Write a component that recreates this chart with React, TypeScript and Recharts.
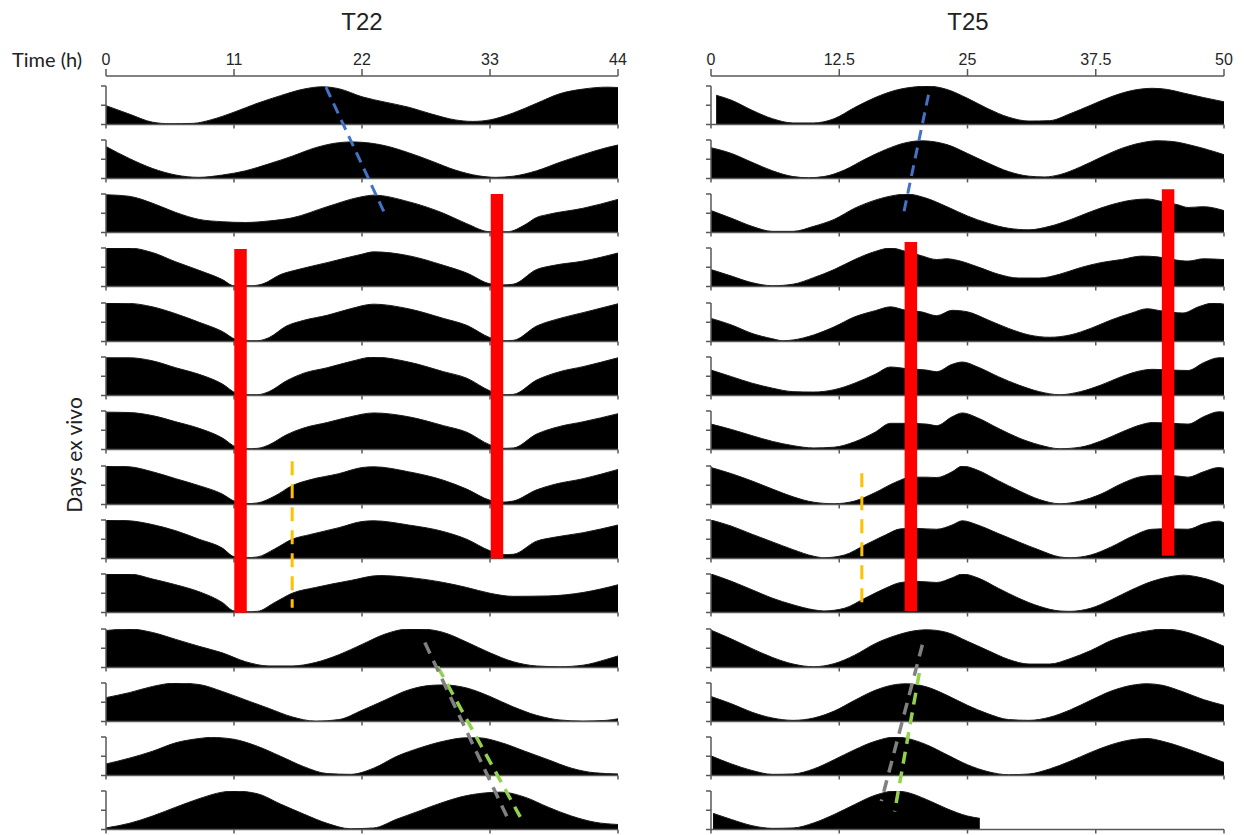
import React from 'react';
import { AreaChart, Area, XAxis, YAxis, ComposedChart, Line } from 'recharts';

// T22 / T25 actograms, one row per day ex vivo (double plotted)
type Pt = [number, number];

const t22Ticks = [0, 11, 22, 33, 44];
const t25Ticks = [0, 12.5, 25, 37.5, 50];

// [time (h), relative level 0..1]
const t22Row1: Pt[] = [[0, 0.49], [2, 0.27], [4, 0.06], [5.5, 0.02], [7.5, 0.03], [9, 0.12], [11, 0.32], [13, 0.55], [15, 0.75], [17, 0.92], [18.6, 0.98], [20, 0.93], [22, 0.72], [24, 0.58], [26, 0.45], [28, 0.27], [30, 0.12], [31.5, 0.08], [33, 0.12], [35, 0.3], [37, 0.55], [39, 0.8], [41, 0.92], [43, 0.97], [44, 0.96]];
const t22Row2: Pt[] = [[0, 0.83], [2, 0.52], [4, 0.26], [6, 0.09], [8, 0.03], [10, 0.09], [12, 0.2], [14, 0.38], [16, 0.58], [18, 0.8], [20, 0.93], [21, 0.95], [22, 0.94], [24, 0.85], [26, 0.67], [28, 0.45], [30, 0.22], [32, 0.07], [33.5, 0.03], [35, 0.06], [37, 0.2], [39, 0.42], [41, 0.62], [43, 0.8], [44, 0.87]];
const t22Row3: Pt[] = [[0, 0.98], [2, 0.94], [4, 0.76], [6, 0.52], [8, 0.34], [10, 0.28], [12, 0.26], [14, 0.3], [16, 0.38], [19, 0.67], [22, 0.93], [23, 0.97], [26, 0.8], [29, 0.5], [31, 0.23], [33, 0.02], [34.5, 0.02], [36, 0.2], [37, 0.39], [38, 0.47], [41, 0.63], [44, 0.86]];
const t22Row4: Pt[] = [[0, 1.0], [2, 1.0], [4, 0.88], [6, 0.64], [8, 0.42], [10, 0.18], [11, 0.02], [12.5, 0.02], [13.5, 0.07], [15, 0.31], [16.5, 0.44], [19, 0.62], [22, 0.84], [23, 0.9], [26, 0.8], [29, 0.55], [31, 0.35], [33, 0.07], [34, 0.04], [35, 0.06], [37, 0.44], [38.5, 0.55], [41, 0.66], [44, 0.87]];
const t22Row5: Pt[] = [[0, 1.0], [2, 0.99], [4, 0.9], [6, 0.72], [8, 0.5], [10, 0.26], [11.2, 0.05], [12, 0.02], [13, 0.02], [14, 0.1], [15.5, 0.4], [17, 0.55], [19, 0.68], [21, 0.85], [23, 0.97], [26, 0.85], [29, 0.6], [31, 0.42], [33, 0.1], [34, 0.02], [35, 0.03], [37, 0.4], [39, 0.6], [41, 0.75], [44, 0.98]];
const t22Row6: Pt[] = [[0, 0.98], [2, 0.98], [4, 0.9], [6, 0.72], [8, 0.55], [10, 0.3], [11.2, 0.06], [12, 0.02], [13, 0.02], [14, 0.1], [15.5, 0.38], [17, 0.58], [19, 0.72], [21, 0.88], [23, 1.0], [26, 0.87], [29, 0.62], [31, 0.45], [33, 0.12], [34, 0.02], [35, 0.03], [37, 0.4], [39, 0.62], [41, 0.75], [44, 0.98]];
const t22Row7: Pt[] = [[0, 0.97], [2, 0.96], [4, 0.88], [6, 0.72], [8, 0.55], [10, 0.3], [11.2, 0.06], [12, 0.02], [13, 0.03], [14, 0.12], [15.5, 0.38], [17, 0.56], [19, 0.7], [21, 0.85], [23, 0.95], [26, 0.85], [29, 0.62], [31, 0.45], [33, 0.12], [34, 0.03], [35, 0.04], [37, 0.4], [39, 0.6], [41, 0.72], [44, 0.93]];
const t22Row8: Pt[] = [[0, 1.0], [2, 0.98], [4, 0.85], [6, 0.67], [8, 0.49], [10, 0.27], [11, 0.09], [12, 0.02], [13, 0.04], [14.5, 0.22], [16, 0.49], [17.5, 0.64], [20, 0.8], [22, 0.96], [23, 0.98], [26, 0.85], [29, 0.63], [31, 0.4], [33, 0.11], [34, 0.06], [35, 0.09], [37, 0.38], [38.5, 0.52], [41, 0.67], [44, 0.91]];
const t22Row9: Pt[] = [[0, 1.0], [2, 0.98], [4, 0.88], [6, 0.72], [8, 0.5], [10, 0.27], [11, 0.05], [12, 0.02], [13, 0.04], [14.5, 0.25], [16, 0.5], [17.5, 0.62], [20, 0.8], [22, 0.96], [23, 0.98], [26, 0.87], [29, 0.7], [31, 0.5], [33, 0.2], [34.2, 0.1], [35, 0.11], [37, 0.45], [38.5, 0.55], [41, 0.67], [44, 0.87]];
const t22Row10: Pt[] = [[0, 1.0], [2, 1.0], [4, 0.87], [6, 0.72], [8, 0.54], [10, 0.26], [11, 0.04], [12, 0.02], [13, 0.03], [14.5, 0.26], [16, 0.5], [18, 0.65], [21, 0.83], [23.5, 0.96], [26, 0.91], [29, 0.78], [31, 0.65], [33, 0.5], [35, 0.42], [38, 0.43], [41, 0.52], [44, 0.72]];
const t22Row11: Pt[] = [[0, 0.96], [2, 1.0], [4, 0.91], [6, 0.73], [8, 0.55], [10, 0.38], [12, 0.15], [14, 0.04], [16, 0.04], [18, 0.13], [20, 0.33], [22, 0.6], [24, 0.87], [26, 1.0], [27, 1.0], [29, 0.91], [31, 0.66], [33, 0.38], [35, 0.15], [37, 0.04], [39, 0.02], [41, 0.06], [43, 0.21], [44, 0.3]];
const t22Row12: Pt[] = [[0, 0.62], [2, 0.75], [4, 0.91], [6, 1.0], [8, 0.96], [10, 0.78], [12, 0.56], [14, 0.34], [16, 0.12], [18, 0.01], [20, 0.05], [22, 0.29], [24, 0.56], [26, 0.82], [28, 0.94], [29, 0.95], [31, 0.87], [33, 0.65], [35, 0.38], [37, 0.16], [39, 0.04], [41, 0.01], [43, 0.03], [44, 0.07]];
const t22Row13: Pt[] = [[0, 0.3], [2, 0.45], [4, 0.63], [6, 0.85], [8, 0.96], [9, 0.99], [11, 0.94], [13, 0.76], [15, 0.5], [17, 0.23], [19, 0.05], [21, 0.03], [23, 0.19], [25, 0.5], [27, 0.72], [29, 0.89], [31, 0.98], [32, 0.98], [34, 0.85], [36, 0.63], [38, 0.41], [40, 0.19], [42, 0.07], [44, 0.04]];
const t22Row14: Pt[] = [[0, 0.04], [2, 0.16], [4, 0.35], [6, 0.58], [8, 0.8], [10, 0.97], [11, 1.0], [13, 0.93], [15, 0.66], [17, 0.4], [19, 0.16], [21, 0.02], [23, 0.04], [25, 0.27], [27, 0.49], [29, 0.71], [31, 0.88], [33, 0.96], [34, 0.97], [36, 0.84], [38, 0.58], [40, 0.35], [42, 0.19], [44, 0.13]];

const t25Row1: Pt[] = [[0.5, 0.76], [2, 0.63], [4, 0.37], [6, 0.15], [8, 0.04], [10, 0.04], [12, 0.15], [14, 0.44], [16, 0.7], [18, 0.89], [20, 0.98], [21, 1.0], [23, 0.91], [25, 0.68], [27, 0.41], [29, 0.19], [31, 0.09], [33, 0.1], [35, 0.28], [37, 0.5], [39, 0.72], [41, 0.88], [43, 0.94], [44.5, 0.91], [46, 0.82], [48, 0.7], [50, 0.59]];
const t25Row2: Pt[] = [[0, 0.8], [2, 0.65], [4, 0.42], [6, 0.2], [8, 0.05], [9.5, 0.02], [11, 0.05], [13, 0.22], [15, 0.5], [17, 0.75], [19, 0.93], [20.5, 0.98], [23, 0.88], [25, 0.65], [27, 0.4], [29, 0.18], [31, 0.06], [32.5, 0.04], [34, 0.1], [36, 0.3], [38, 0.55], [40, 0.78], [42, 0.93], [43.5, 0.98], [45, 0.96], [47, 0.85], [50, 0.62]];
const t25Row3: Pt[] = [[0, 0.57], [2, 0.37], [4, 0.16], [6, 0.03], [8, 0.03], [10, 0.16], [12, 0.34], [14, 0.63], [16, 0.84], [18, 0.97], [19, 1.0], [21, 0.89], [23, 0.67], [25, 0.43], [27, 0.24], [29, 0.11], [31, 0.07], [33, 0.16], [35, 0.33], [37, 0.54], [39, 0.72], [41, 0.84], [42.5, 0.87], [44, 0.8], [45.5, 0.72], [46.5, 0.65], [48, 0.67], [50, 0.57]];
const t25Row4: Pt[] = [[0, 0.44], [2, 0.27], [4, 0.1], [6, 0.02], [8, 0.06], [10, 0.23], [12, 0.44], [14, 0.7], [16, 0.91], [17.5, 1.0], [19, 0.91], [20.5, 0.8], [22, 0.7], [23, 0.72], [24, 0.68], [26, 0.51], [28, 0.32], [30, 0.22], [32, 0.22], [34, 0.32], [36, 0.49], [38, 0.62], [40, 0.7], [42, 0.79], [43.5, 0.77], [45, 0.7], [46.5, 0.66], [48, 0.72], [50, 0.7]];
const t25Row5: Pt[] = [[0, 0.6], [2, 0.43], [4, 0.21], [6, 0.07], [7, 0.02], [8, 0.04], [10, 0.17], [12, 0.38], [14, 0.64], [16, 0.8], [17.5, 0.9], [19, 0.81], [20.5, 0.77], [22, 0.67], [23.5, 0.81], [25, 0.77], [27, 0.56], [29, 0.34], [31, 0.17], [33, 0.11], [35, 0.17], [37, 0.34], [39, 0.56], [41, 0.74], [42.5, 0.85], [44, 0.79], [46, 0.74], [47.5, 0.9], [49, 1.0], [50, 0.97]];
const t25Row6: Pt[] = [[0, 0.66], [2, 0.49], [4, 0.32], [6, 0.19], [8, 0.1], [10, 0.09], [12, 0.15], [14, 0.32], [16, 0.55], [17.5, 0.74], [19, 0.7], [21, 0.66], [22, 0.62], [23.5, 0.81], [24.5, 0.87], [26, 0.74], [28, 0.49], [30, 0.27], [32, 0.1], [34, 0.02], [36, 0.1], [38, 0.27], [40, 0.49], [42, 0.65], [43, 0.68], [45, 0.66], [46.5, 0.65], [48, 0.85], [49.5, 0.98], [50, 0.98]];
const t25Row7: Pt[] = [[0, 0.66], [2, 0.52], [4, 0.36], [6, 0.21], [8, 0.1], [10, 0.04], [12, 0.06], [14, 0.2], [16, 0.45], [17.5, 0.68], [19, 0.68], [21, 0.66], [22, 0.62], [23.5, 0.85], [24.5, 0.95], [26, 0.82], [28, 0.55], [30, 0.3], [32, 0.12], [34, 0.02], [36, 0.06], [38, 0.22], [40, 0.45], [42, 0.65], [43, 0.7], [45, 0.68], [46.5, 0.66], [48, 0.85], [49.5, 0.98], [50, 0.97]];
const t25Row8: Pt[] = [[0, 0.96], [2, 0.8], [4, 0.61], [6, 0.4], [8, 0.2], [10, 0.06], [12, 0.02], [14, 0.09], [16, 0.31], [18, 0.58], [19.5, 0.71], [21, 0.71], [22, 0.7], [23.5, 0.85], [24.5, 1.0], [26, 0.89], [28, 0.62], [30, 0.36], [32, 0.13], [34, 0.02], [36, 0.09], [38, 0.27], [40, 0.54], [42, 0.73], [43.5, 0.76], [45.5, 0.74], [46.5, 0.71], [48, 0.85], [49.5, 0.96], [50, 0.94]];
const t25Row9: Pt[] = [[0, 1.0], [2, 0.84], [4, 0.63], [6, 0.43], [8, 0.23], [10, 0.06], [11, 0.02], [13, 0.09], [15, 0.35], [17, 0.61], [18.5, 0.77], [20, 0.78], [22, 0.76], [23.5, 0.87], [24.5, 0.98], [26, 0.87], [28, 0.65], [30, 0.43], [32, 0.22], [34, 0.04], [35, 0.02], [37, 0.09], [39, 0.3], [41, 0.57], [43, 0.76], [44.5, 0.77], [46.5, 0.76], [48, 0.9], [49.5, 0.97], [50, 0.93]];
const t25Row10: Pt[] = [[0, 1.0], [2, 0.81], [4, 0.59], [6, 0.37], [8, 0.2], [10, 0.07], [11, 0.04], [13, 0.11], [15, 0.37], [17, 0.63], [18.5, 0.78], [20, 0.81], [22, 0.78], [23.5, 0.9], [24.5, 1.0], [26, 0.9], [28, 0.63], [30, 0.37], [32, 0.16], [34, 0.04], [35, 0.03], [37, 0.11], [39, 0.33], [41, 0.59], [43, 0.81], [45, 0.94], [46, 0.97], [47.5, 0.92], [49, 0.81], [50, 0.7]];
const t25Row11: Pt[] = [[0, 0.97], [2, 0.74], [4, 0.49], [6, 0.26], [8, 0.09], [10, 0.02], [12, 0.1], [14, 0.32], [16, 0.62], [18, 0.83], [20, 0.96], [21, 0.98], [23, 0.91], [25, 0.68], [27, 0.44], [29, 0.21], [31, 0.09], [33, 0.09], [35, 0.23], [37, 0.44], [39, 0.7], [41, 0.87], [43, 0.97], [44, 1.0], [46, 0.94], [48, 0.77], [50, 0.55]];
const t25Row12: Pt[] = [[0, 0.65], [2, 0.46], [4, 0.24], [6, 0.09], [8, 0.03], [10, 0.09], [12, 0.27], [14, 0.55], [16, 0.81], [18, 0.96], [19, 0.98], [21, 0.9], [23, 0.68], [25, 0.42], [27, 0.2], [29, 0.05], [31, 0.03], [33, 0.11], [35, 0.3], [37, 0.55], [39, 0.79], [41, 0.94], [42.5, 0.98], [44, 0.94], [46, 0.77], [48, 0.57], [50, 0.42]];
const t25Row13: Pt[] = [[0, 0.51], [2, 0.3], [4, 0.13], [6, 0.03], [8, 0.04], [10, 0.17], [12, 0.41], [14, 0.67], [16, 0.89], [18, 1.0], [19, 0.97], [21, 0.8], [23, 0.54], [25, 0.28], [27, 0.1], [29, 0.02], [31, 0.04], [33, 0.17], [35, 0.37], [37, 0.6], [39, 0.8], [41, 0.93], [42.5, 0.96], [44, 0.89], [46, 0.73], [48, 0.54], [50, 0.34]];
const t25Row14: Pt[] = [[0.2, 0.42], [2, 0.26], [4, 0.1], [6, 0.03], [8, 0.04], [10, 0.17], [12, 0.39], [14, 0.65], [16, 0.89], [18, 1.0], [19, 0.97], [21, 0.78], [23, 0.54], [25, 0.35], [26.2, 0.29]];

const t22Rows = [t22Row1, t22Row2, t22Row3, t22Row4, t22Row5, t22Row6, t22Row7, t22Row8, t22Row9, t22Row10, t22Row11, t22Row12, t22Row13, t22Row14];
const t25Rows = [t25Row1, t25Row2, t25Row3, t25Row4, t25Row5, t25Row6, t25Row7, t25Row8, t25Row9, t25Row10, t25Row11, t25Row12, t25Row13, t25Row14];

// overlay marks: [time (h), row position (row 1 top = 0, one unit per row)]
const t22Blue: Pt[] = [[18.9, 0.03], [24.0, 2.38]];
const t22RedA: Pt[] = [[11.56, 3.01], [11.56, 9.71]];
const t22RedB: Pt[] = [[33.6, 2.0], [33.6, 8.71]];
const t22Orange: Pt[] = [[16.0, 6.92], [16.0, 9.62]];
const t22Gray: Pt[] = [[27.4, 10.26], [34.6, 13.53]];
const t22Green: Pt[] = [[28.5, 10.7], [35.6, 13.47]];

const t25Blue: Pt[] = [[21.2, 0.17], [18.8, 2.33]];
const t25RedA: Pt[] = [[19.48, 2.88], [19.48, 9.68]];
const t25RedB: Pt[] = [[44.55, 1.91], [44.55, 8.66]];
const t25Orange: Pt[] = [[14.7, 7.14], [14.7, 9.66]];
const t25Gray: Pt[] = [[20.6, 10.3], [16.6, 13.18]];
const t25Green: Pt[] = [[20.3, 10.82], [17.9, 13.37]];

const AXIS = '#595959';
const ROW_TOP0 = 85.5;
const PITCH = 54.3;
const ROW_H = 38.5;

interface Mark { pts: Pt[]; color: string; width: number; dash?: string }

const t22Marks: Mark[] = [
  { pts: t22RedA, color: '#ff0000', width: 12.5 },
  { pts: t22RedB, color: '#ff0000', width: 12.5 },
  { pts: t22Blue, color: '#4472c4', width: 3, dash: '11 7' },
  { pts: t22Orange, color: '#ffc000', width: 3, dash: '14 9' },
  { pts: t22Green, color: '#92d050', width: 3.5, dash: '12 8' },
  { pts: t22Gray, color: '#808080', width: 3.5, dash: '12 8' },
];
const t25Marks: Mark[] = [
  { pts: t25RedA, color: '#ff0000', width: 12.5 },
  { pts: t25RedB, color: '#ff0000', width: 12.5 },
  { pts: t25Blue, color: '#4472c4', width: 3, dash: '11 7' },
  { pts: t25Orange, color: '#ffc000', width: 3, dash: '14 9' },
  { pts: t25Green, color: '#92d050', width: 3.5, dash: '12 8' },
  { pts: t25Gray, color: '#808080', width: 3.5, dash: '12 8' },
];

const noLabel = () => '';

function DayRow({ pts, index, xMax, ticks, plotLeft, plotWidth }: { pts: Pt[]; index: number; xMax: number; ticks: number[]; plotLeft: number; plotWidth: number }) {
  const data = pts.map(([t, v]) => ({ t, v }));
  return (
    <div style={{ position: 'absolute', left: plotLeft - 8, top: ROW_TOP0 + index * PITCH - 2 }}>
      <AreaChart width={plotWidth + 12} height={ROW_H + 8} data={data} margin={{ top: 2, right: 4, bottom: 0, left: 0 }}>
        <XAxis dataKey="t" type="number" domain={[0, xMax]} ticks={ticks} interval={0} tickFormatter={noLabel}
          tickSize={4} height={6} stroke={AXIS} strokeWidth={1.5} tickLine={{ stroke: AXIS, strokeWidth: 1.5 }} allowDataOverflow />
        <YAxis type="number" domain={[0, 1]} ticks={[0, 0.5, 1]} interval={0} tickFormatter={noLabel}
          tickSize={5} width={8} stroke={AXIS} strokeWidth={1.5} tickLine={{ stroke: AXIS, strokeWidth: 1.5 }} allowDataOverflow />
        <Area dataKey="v" type="monotone" fill="#000" fillOpacity={1} stroke="#1a1a1a" strokeWidth={1} isAnimationActive={false} />
      </AreaChart>
    </div>
  );
}

// row-position range covered by the overlay plot (axis line at 76px, last baseline at 830px)
const Y_TOP = (76 - ROW_TOP0) / PITCH;
const Y_BOTTOM = (830 - ROW_TOP0) / PITCH;

function Overlay({ marks, xMax, ticks, plotLeft, plotWidth }: { marks: Mark[]; xMax: number; ticks: number[]; plotLeft: number; plotWidth: number }) {
  return (
    <div style={{ position: 'absolute', left: plotLeft - 30, top: 0 }}>
      <ComposedChart width={plotWidth + 60} height={835} margin={{ top: 46, right: 30, bottom: 5, left: 30 }}>
        <XAxis xAxisId="x" orientation="top" dataKey="t" type="number" domain={[0, xMax]} ticks={ticks} interval={0} height={30}
          tickSize={7} tickMargin={4} stroke={AXIS} strokeWidth={1.5}
          tick={{ fill: '#262626', fontSize: 16, fontFamily: '"Liberation Sans", Arial, sans-serif' }} allowDataOverflow />
        <YAxis yAxisId="y" hide type="number" domain={[Y_TOP, Y_BOTTOM]} reversed allowDataOverflow />
        {marks.map((m, i) => (
          <Line key={i} xAxisId="x" yAxisId="y" data={m.pts.map(([t, u]) => ({ t, u }))} dataKey="u" type="linear"
            stroke={m.color} strokeWidth={m.width} strokeDasharray={m.dash} strokeLinecap="butt"
            dot={false} activeDot={false} isAnimationActive={false} />
        ))}
      </ComposedChart>
    </div>
  );
}

export default function App() {
  const label: React.CSSProperties = { position: 'absolute', color: '#222', whiteSpace: 'nowrap' };
  return (
    <div style={{ position: 'fixed', left: 0, top: 0, width: 1245, height: 835, overflow: 'hidden', background: '#fff' }}>
      <div style={{ ...label, left: 362, top: 22, transform: 'translate(-50%, -50%)', fontSize: 24, fontFamily: '"Liberation Sans", Arial, sans-serif' }}>T22</div>
      <div style={{ ...label, left: 968, top: 22, transform: 'translate(-50%, -50%)', fontSize: 24, fontFamily: '"Liberation Sans", Arial, sans-serif' }}>T25</div>
      <div style={{ ...label, left: 12, top: 59, transform: 'translateY(-50%)', fontSize: 20, fontFamily: 'Lato, "Open Sans", sans-serif' }}>Time (h)</div>
      <div style={{ ...label, left: 73, top: 455, transform: 'translate(-50%, -50%) rotate(-90deg)', fontSize: 21, fontFamily: 'Lato, "Open Sans", sans-serif' }}>Days ex vivo</div>

      {t22Rows.map((pts, i) => (
        <DayRow key={`a${i}`} pts={pts} index={i} xMax={44} ticks={t22Ticks} plotLeft={106} plotWidth={512} />
      ))}
      {t25Rows.map((pts, i) => (
        <DayRow key={`b${i}`} pts={pts} index={i} xMax={50} ticks={t25Ticks} plotLeft={711} plotWidth={513} />
      ))}

      <Overlay marks={t22Marks} xMax={44} ticks={t22Ticks} plotLeft={106} plotWidth={512} />
      <Overlay marks={t25Marks} xMax={50} ticks={t25Ticks} plotLeft={711} plotWidth={513} />
    </div>
  );
}
